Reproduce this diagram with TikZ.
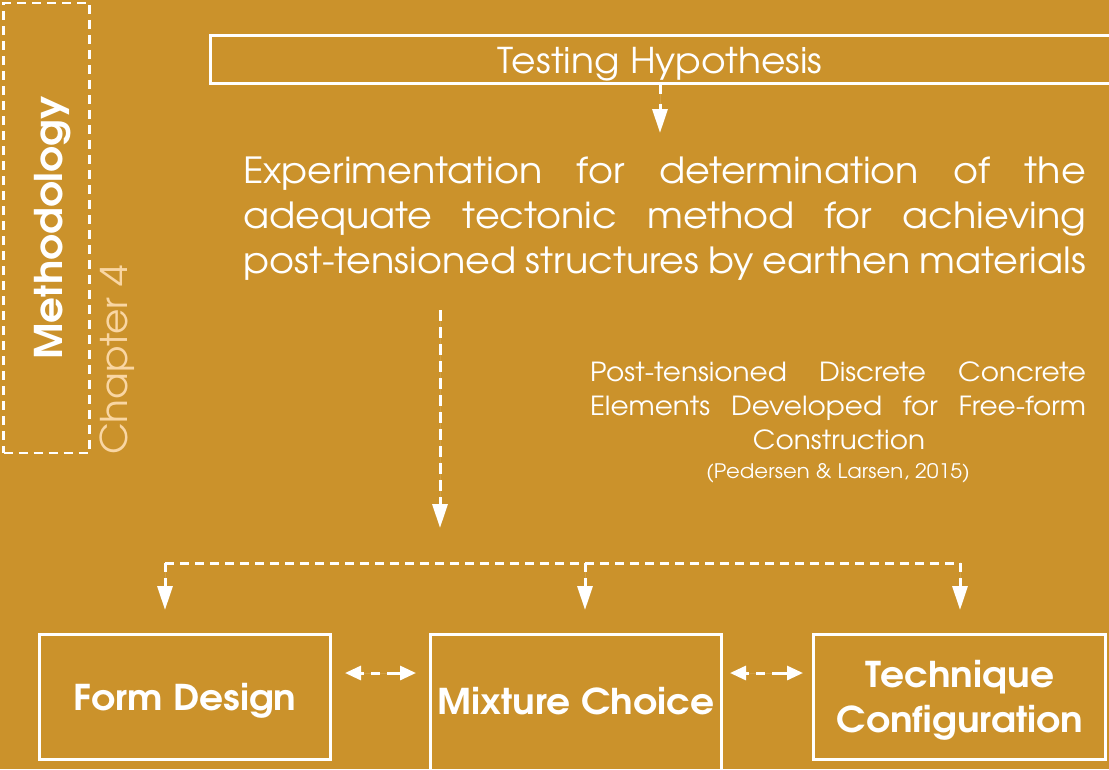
\documentclass[tikz,border=0pt]{standalone}
\usepackage{fontspec}
\setmainfont{TeX Gyre Adventor}[FakeStretch=1.06]
\usetikzlibrary{arrows.meta}
\definecolor{bg}{HTML}{CB922B}
\definecolor{peach}{HTML}{F9D6A3}
\begin{document}
\begin{tikzpicture}[x=1pt,y=-1pt,
  every node/.style={inner sep=0pt, outer sep=0pt, text=white},
  whitebox/.style={draw=white, line width=3pt, anchor=north west},
  dashline/.style={draw=white, line width=3pt, dash pattern=on 10pt off 6pt},
  bigtip/.style={-{Triangle[length=24pt,width=15pt]}},
  dbltip/.style={{Triangle[length=16pt,width=14pt]}-{Triangle[length=16pt,width=14pt]}, draw=white, line width=3pt, dash pattern=on 4pt off 7pt on 9pt off 7pt on 30pt},
  mainfont/.style={font=\fontsize{36}{45}\selectfont},
  reffont/.style={font=\fontsize{26.3}{34}\selectfont},
  boldfont/.style={font=\bfseries\fontsize{35.5}{45}\selectfont}]
\fill[bg] (0,0) rectangle (1109,769);
\useasboundingbox (0,0) rectangle (1109,769);

% left side
\node[draw=white, line width=2.5pt, dash pattern=on 9pt off 6pt, anchor=north west,
      minimum width=86pt, minimum height=450pt] (methbox) at (3.5,3) {};
\node[rotate=90, anchor=base, font=\bfseries\fontsize{38.2}{40}\selectfont] (meth) at (62,228) {Methodology};
\node[rotate=90, anchor=base, text=peach, font=\fontsize{36.8}{40}\selectfont] (chap) at (127,360) {Chapter 4};

% hypothesis
\node[whitebox, minimum width=910pt, minimum height=48pt] (hyp) at (210,35.5) {};
\node[anchor=base, font=\fontsize{35.5}{40}\selectfont] (hyptext) at (660,73) {Testing Hypothesis};
\coordinate (hypend) at (660,133);
\draw[dashline, bigtip, fill=white, dash pattern=on 10pt off 10pt] (hyptext.base |- hyp.south) -- (hypend);

% main paragraph
\node[mainfont, anchor=base west] (m1) at (243,183) {\makebox[843pt][s]{Experimentation for determination of the}};
\node[mainfont, anchor=base west] (m2) at (243,228) {\makebox[843pt][s]{adequate tectonic method for achieving}};
\node[mainfont, anchor=base west] (m3) at (243,273) {\makebox[843pt][s]{post-tensioned structures by earthen materials}};

% reference
\node[reffont, anchor=base west] (r1) at (590,381) {\makebox[496pt][s]{Post-tensioned Discrete Concrete}};
\node[reffont, anchor=base west] (r2) at (590,415) {\makebox[496pt][s]{Elements Developed for Free-form}};
\node[reffont, anchor=base] (r3) at (839,449) {Construction};
\node[font=\fontsize{20}{22}\selectfont, anchor=base] (r4) at (838,478) {(Pedersen \& Larsen, 2015)};

% long arrow
\coordinate (longstart) at (440,310);
\coordinate (longend) at (440,528);
\draw[dashline, bigtip, fill=white, dash pattern=on 11pt off 6pt] (longstart) -- (longend);

% boxes
\node[whitebox, minimum width=291pt, minimum height=125pt] (form) at (39,634) {};
\node[whitebox, minimum width=291pt, minimum height=140pt] (mix) at (430,634) {};
\node[whitebox, minimum width=292pt, minimum height=125pt] (tech) at (813,634) {};
\node[boldfont, anchor=base] (formt) at (185,710) {Form Design};
\node[boldfont, anchor=base] (mixt) at (576,714) {Mixture Choice};
\node[boldfont, anchor=base] (techt1) at (960,687) {Technique};
\node[boldfont, anchor=base] (techt2) at (960,732) {Configuration};

% branch
\coordinate (jl) at (165,563);
\coordinate (jm) at (585,563);
\coordinate (jr) at (960,563);
\draw[dashline, dash pattern=on 9pt off 6pt] (jl) -- (jr);
\draw[dashline, bigtip, fill=white, dash pattern=on 9pt off 6pt] (jl) -- ++(0,47);
\draw[dashline, bigtip, fill=white, dash pattern=on 9pt off 6pt] (jm) -- ++(0,47);
\draw[dashline, bigtip, fill=white, dash pattern=on 9pt off 6pt] (jr) -- ++(0,47);

% double arrows
\draw[dbltip, fill=white] ([xshift=15pt,yshift=23.5pt]form.east) -- ([xshift=-14pt,yshift=23.5pt]form.east -| mix.west);
\draw[dbltip, fill=white] ([xshift=9pt,yshift=23.5pt]form.east -| mix.east) -- ([xshift=-10pt,yshift=23.5pt]form.east -| tech.west);
\end{tikzpicture}
\end{document}
